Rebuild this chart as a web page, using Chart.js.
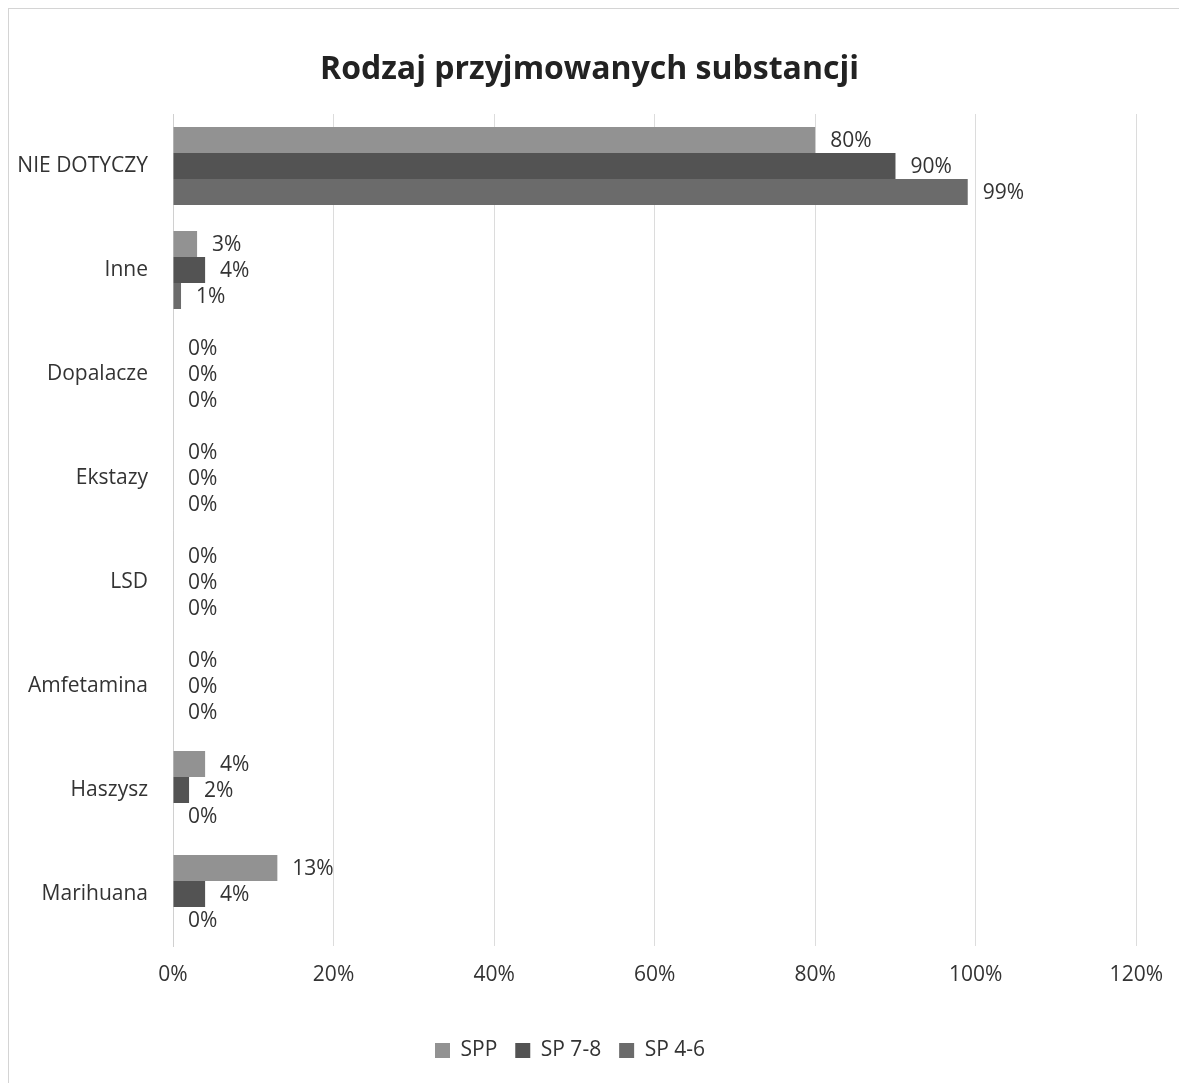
<!DOCTYPE html>
<html>
<head>
<meta charset="utf-8">
<script src="https://cdn.jsdelivr.net/npm/chart.js@4"></script>
<style>
  body { margin: 0; background: #fff; }
  .frame { position: absolute; left: 8px; top: 8px; width: 1200px; height: 1100px; border: 1px solid #d4d4d4; }
  .wrap { position: absolute; left: 0; top: 0; width: 1179px; height: 1083px; }
</style>
</head>
<body>
<div class="frame"></div>
<div class="wrap"><canvas id="chart" width="1179" height="1083"></canvas></div>
<script>
const categories = ["NIE DOTYCZY", "Inne", "Dopalacze", "Ekstazy", "LSD", "Amfetamina", "Haszysz", "Marihuana"];
const spp = [80, 3, 0, 0, 0, 0, 4, 13];
const sp78 = [90, 4, 0, 0, 0, 0, 2, 4];
const sp46 = [99, 1, 0, 0, 0, 0, 0, 0];
const tickLabels = ["0%", "20%", "40%", "60%", "80%", "100%", "120%"];
const chartTitle = "Rodzaj przyjmowanych substancji";

const fontFamily = "'Open Sans', 'Noto Sans', sans-serif";

// labels at the end of each bar, like Excel "outside end"
const barLabels = {
  id: "barLabels",
  afterDatasetsDraw(chart) {
    const ctx = chart.ctx;
    ctx.save();
    ctx.font = "21px " + fontFamily;
    ctx.fillStyle = "#333";
    ctx.textAlign = "left";
    ctx.textBaseline = "middle";
    chart.data.datasets.forEach((ds, i) => {
      const meta = chart.getDatasetMeta(i);
      meta.data.forEach((bar, j) => {
        ctx.fillText(ds.data[j] + "%", bar.x + 15, bar.y + 1);
      });
    });
    ctx.restore();
  }
};

// title centred on the whole canvas (built-in one follows layout padding)
const centerTitle = {
  id: "centerTitle",
  afterDraw(chart) {
    const ctx = chart.ctx;
    ctx.save();
    ctx.font = "bold 32px " + fontFamily;
    ctx.fillStyle = "#222";
    ctx.textAlign = "center";
    ctx.textBaseline = "middle";
    ctx.fillText(chartTitle, chart.width / 2, 70);
    ctx.restore();
  }
};

const ctx = document.getElementById("chart");
const myChart = new Chart(ctx, {
  type: "bar",
  data: {
    labels: categories,
    datasets: [
      { label: "SPP", data: spp, backgroundColor: "#929292" },
      { label: "SP 7-8", data: sp78, backgroundColor: "#535353" },
      { label: "SP 4-6", data: sp46, backgroundColor: "#6b6b6b" },
    ],
  },
  options: {
    indexAxis: "y",
    responsive: false,
    animation: false,
    categoryPercentage: 0.75,
    barPercentage: 1,
    layout: { padding: { left: 0, right: 39, top: 114, bottom: 12 } },
    plugins: {
      title: { display: false },
      legend: {
        position: "bottom",
        labels: {
          color: "#333",
          font: { family: fontFamily, size: 21 },
          boxWidth: 15,
          boxHeight: 15,
          padding: 18,
        },
      },
      tooltip: { enabled: false },
    },
    scales: {
      x: {
        min: 0,
        max: 120,
        ticks: {
          stepSize: 20,
          color: "#333",
          padding: 16,
          font: { family: fontFamily, size: 21 },
          callback: (v, i) => tickLabels[i],
        },
        grid: { color: "#dcdcdc", drawTicks: false },
        border: { display: false },
        afterFit(scale) { scale.height = 76; },
      },
      y: {
        ticks: {
          color: "#333",
          padding: 25,
          font: { family: fontFamily, size: 21 },
        },
        grid: { display: false, drawTicks: false },
        border: { display: true, color: "#d0d0d0" },
        afterFit(scale) { scale.width = 173; },
      },
    },
  },
  plugins: [barLabels, centerTitle],
});
</script>
</body>
</html>
